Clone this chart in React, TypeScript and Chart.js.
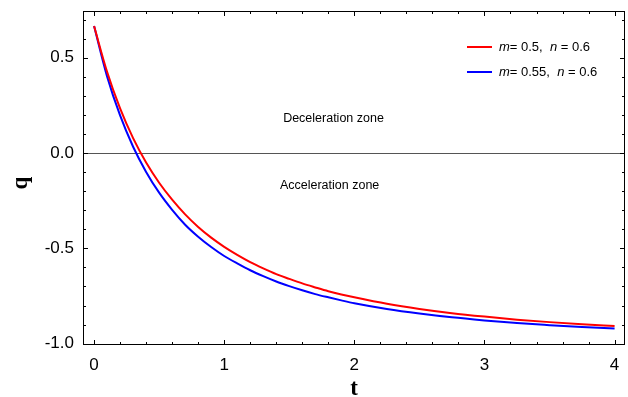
import React, { useEffect, useRef } from 'react';
import { Chart, registerables } from 'chart.js';

Chart.register(...registerables);

// ---- data ----
const tValues = [0, 0.1, 0.2, 0.3, 0.4, 0.5, 0.6, 0.7, 0.8, 0.9, 1.0, 1.1, 1.2, 1.3, 1.4, 1.5, 1.6, 1.7, 1.8, 1.9, 2.0, 2.25, 2.5, 2.75, 3.0, 3.25, 3.5, 3.75, 4.0];
const qRed = [0.666, 0.426, 0.234, 0.078, -0.05, -0.156, -0.245, -0.322, -0.388, -0.444, -0.492, -0.534, -0.572, -0.605, -0.635, -0.66, -0.684, -0.705, -0.725, -0.742, -0.757, -0.791, -0.818, -0.84, -0.858, -0.874, -0.887, -0.898, -0.907];
const qBlue = [0.666, 0.402, 0.197, 0.033, -0.099, -0.208, -0.298, -0.376, -0.439, -0.493, -0.54, -0.579, -0.615, -0.646, -0.674, -0.698, -0.72, -0.74, -0.757, -0.773, -0.788, -0.818, -0.842, -0.862, -0.878, -0.892, -0.903, -0.913, -0.921];

const seriesM = ['0.5', '0.55'];
const seriesN = ['0.6', '0.6'];
const seriesColors = ['#ff0000', '#0000ff'];

const xMajorTicks = [0, 1, 2, 3, 4];
const xMinorTicks = [0.2, 0.4, 0.6, 0.8, 1.2, 1.4, 1.6, 1.8, 2.2, 2.4, 2.6, 2.8, 3.2, 3.4, 3.6, 3.8];
const yMajorTicks = [-1.0, -0.5, 0.0, 0.5];
const yMinorTicks = [-0.9, -0.8, -0.7, -0.6, -0.4, -0.3, -0.2, -0.1, 0.1, 0.2, 0.3, 0.4, 0.6, 0.7];

const X_MIN = -0.085;
const X_MAX = 4.08;
const Y_MIN = -1.007;
const Y_MAX = 0.745;

const zoneLabels = [
  { text: 'Deceleration zone', t: 1.84, q: 0.18 },
  { text: 'Acceleration zone', t: 1.81, q: -0.17 },
];

const SANS = '"Liberation Sans", Arial, sans-serif';
const SERIF = '"Liberation Serif", "Times New Roman", serif';

const decorPlugin = {
  id: 'decor',
  beforeDatasetsDraw(chart: any) {
    const { ctx, chartArea } = chart;
    const y = chart.scales.y;
    const y0 = Math.round(y.getPixelForValue(0)) + 0.5;
    ctx.save();
    ctx.strokeStyle = '#555555';
    ctx.lineWidth = 1;
    ctx.beginPath();
    ctx.moveTo(chartArea.left, y0);
    ctx.lineTo(chartArea.right, y0);
    ctx.stroke();
    ctx.restore();
  },
  afterDatasetsDraw(chart: any) {
    const { ctx, chartArea } = chart;
    const { left, right, top, bottom } = chartArea;
    const xs = chart.scales.x;
    const ys = chart.scales.y;
    ctx.save();
    ctx.strokeStyle = '#000';
    ctx.lineWidth = 1;
    ctx.strokeRect(left + 0.5, top + 0.5, right - left - 1, bottom - top - 1);
    ctx.beginPath();
    const xt = (v: number, len: number) => {
      const px = Math.round(xs.getPixelForValue(v)) + 0.5;
      ctx.moveTo(px, bottom);
      ctx.lineTo(px, bottom - len);
      ctx.moveTo(px, top);
      ctx.lineTo(px, top + len);
    };
    const yt = (v: number, len: number) => {
      const py = Math.round(ys.getPixelForValue(v)) + 0.5;
      ctx.moveTo(left, py);
      ctx.lineTo(left + len, py);
      ctx.moveTo(right, py);
      ctx.lineTo(right - len, py);
    };
    xMajorTicks.forEach((v) => xt(v, 5));
    xMinorTicks.forEach((v) => xt(v, 3));
    yMajorTicks.forEach((v) => yt(v, 5));
    yMinorTicks.forEach((v) => yt(v, 3));
    ctx.stroke();
    ctx.restore();
  },
  afterDraw(chart: any) {
    const { ctx, chartArea } = chart;
    const xs = chart.scales.x;
    const ys = chart.scales.y;
    ctx.save();
    // zone labels
    ctx.fillStyle = '#000';
    ctx.font = `12.5px ${SANS}`;
    ctx.textAlign = 'center';
    ctx.textBaseline = 'middle';
    zoneLabels.forEach((z) => {
      ctx.fillText(z.text, xs.getPixelForValue(z.t), ys.getPixelForValue(z.q));
    });
    // legend
    const lx = chartArea.right - 158;
    const ly = chartArea.top + 36;
    ctx.textAlign = 'left';
    ctx.textBaseline = 'middle';
    seriesM.forEach((m, i) => {
      const yy = ly + i * 25;
      ctx.strokeStyle = seriesColors[i];
      ctx.lineWidth = 2;
      ctx.beginPath();
      ctx.moveTo(lx, yy);
      ctx.lineTo(lx + 25, yy);
      ctx.stroke();
      let x = lx + 32;
      ctx.font = `italic 13px ${SANS}`;
      ctx.fillText('m', x, yy);
      x += ctx.measureText('m').width;
      ctx.font = `13px ${SANS}`;
      const s1 = `= ${m},  `;
      ctx.fillText(s1, x, yy);
      x += ctx.measureText(s1).width;
      ctx.font = `italic 13px ${SANS}`;
      ctx.fillText('n', x, yy);
      x += ctx.measureText('n').width;
      ctx.font = `13px ${SANS}`;
      ctx.fillText(` = ${seriesN[i]}`, x, yy);
    });
    // axis titles
    ctx.fillStyle = '#000';
    ctx.font = `bold 23px ${SERIF}`;
    ctx.textAlign = 'center';
    ctx.textBaseline = 'alphabetic';
    ctx.fillText('t', (chartArea.left + chartArea.right) / 2, 395);
    ctx.translate(27, 183);
    ctx.rotate(-Math.PI / 2);
    ctx.fillText('q', 0, 0);
    ctx.restore();
  },
};

export default function App() {
  const ref = useRef<HTMLCanvasElement>(null);
  useEffect(() => {
    if (!ref.current) return;
    const chart = new Chart(ref.current, {
      type: 'line',
      data: {
        datasets: [
          {
            label: `m = ${seriesM[0]}, n = ${seriesN[0]}`,
            data: tValues.map((t, i) => ({ x: t, y: qRed[i] })),
            borderColor: seriesColors[0],
            borderWidth: 2,
            pointRadius: 0,
            cubicInterpolationMode: 'monotone',
            fill: false,
          },
          {
            label: `m = ${seriesM[1]}, n = ${seriesN[1]}`,
            data: tValues.map((t, i) => ({ x: t, y: qBlue[i] })),
            borderColor: seriesColors[1],
            borderWidth: 2,
            pointRadius: 0,
            cubicInterpolationMode: 'monotone',
            fill: false,
          },
        ],
      },
      options: {
        responsive: false,
        animation: false,
        devicePixelRatio: 1,
        layout: { padding: { left: 0, top: 11, right: 3, bottom: 0 } },
        plugins: { legend: { display: false }, tooltip: { enabled: false } },
        scales: {
          x: {
            type: 'linear',
            min: X_MIN,
            max: X_MAX,
            afterBuildTicks: (s: any) => {
              s.ticks = xMajorTicks.map((v) => ({ value: v }));
            },
            afterFit: (s: any) => {
              s.height = 52;
              s.paddingLeft = 0;
              s.paddingRight = 0;
            },
            grid: { display: false, drawTicks: false },
            border: { display: false },
            ticks: {
              color: '#000',
              font: { family: SANS, size: 17 },
              padding: 10,
              maxRotation: 0,
              callback: (v: any) => String(Math.round(Number(v))),
            },
          },
          y: {
            type: 'linear',
            min: Y_MIN,
            max: Y_MAX,
            afterBuildTicks: (s: any) => {
              s.ticks = yMajorTicks.map((v) => ({ value: v }));
            },
            afterFit: (s: any) => {
              s.width = 83;
              s.paddingTop = 0;
              s.paddingBottom = 0;
            },
            grid: { display: false, drawTicks: false },
            border: { display: false },
            ticks: {
              color: '#000',
              font: { family: SANS, size: 17 },
              padding: 9,
              callback: (v: any) => Number(v).toFixed(1),
            },
          },
        },
      },
      plugins: [decorPlugin],
    } as any);
    return () => chart.destroy();
  }, []);
  return (
    <div style={{ position: 'fixed', left: 0, top: 0, width: 628, height: 397, background: '#fff' }}>
      <canvas ref={ref} width={628} height={397} />
    </div>
  );
}
